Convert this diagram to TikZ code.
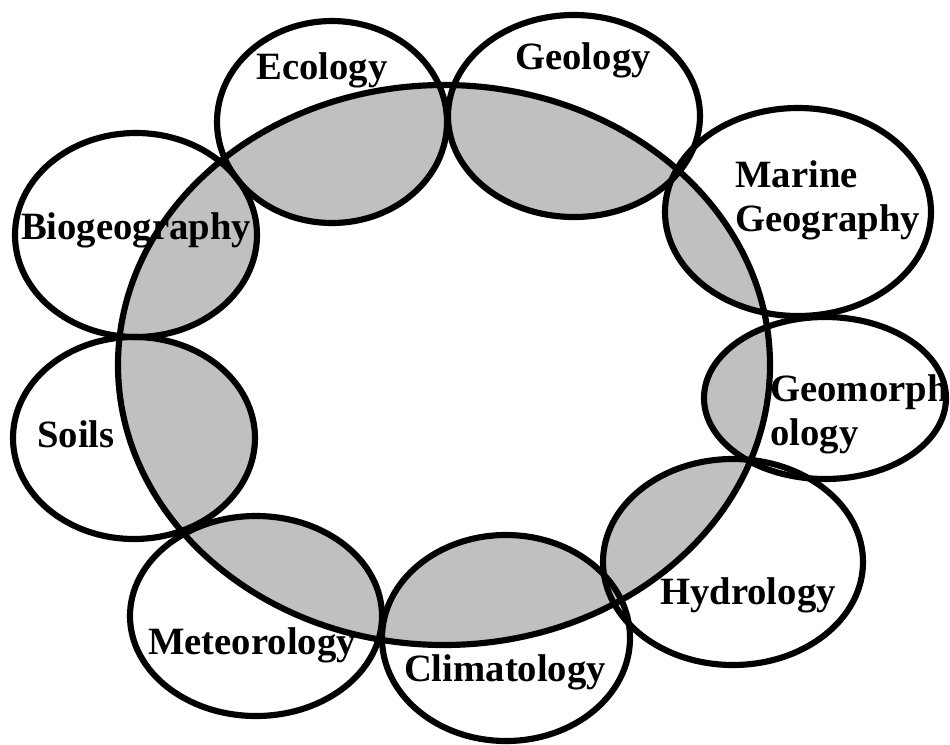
\documentclass[tikz,border=0pt]{standalone}
\usepackage{fontspec}
\setmainfont{Liberation Serif}
\usetikzlibrary{positioning}
\definecolor{lapgray}{RGB}{192,192,192}

\begin{document}
\begin{tikzpicture}[x=0.02cm,y=-0.02cm,
  ring/.style={line width=3.5pt},
  overlap/.style={fill=lapgray},
  topic/.style={font=\bfseries\fontsize{22}{25}\selectfont,inner sep=0pt}]
\useasboundingbox (0,0) rectangle (950,744);
% shaded overlaps with the central field
\begin{scope}
  \clip (444,365) ellipse [x radius=326, y radius=280];
  \foreach \cx/\cy/\rx/\ry in {332/122/115/101, 574/116/126/101, 798/212/133/104,
      825/398/121/81, 733/562/130/103, 506/638/124/103, 256/616/126/100,
      134/438/121/101, 136/235/121/102}
    \fill[overlap] (\cx,\cy) ellipse [x radius=\rx, y radius=\ry];
\end{scope}
% outlines
\draw[ring] (444,365) ellipse [x radius=326, y radius=280];
\foreach \cx/\cy/\rx/\ry in {332/122/115/101, 574/116/126/101, 798/212/133/104,
    825/398/121/81, 733/562/130/103, 506/638/124/103, 256/616/126/100,
    134/438/121/101, 136/235/121/102}
  \draw[ring] (\cx,\cy) ellipse [x radius=\rx, y radius=\ry];
% labels
\node[topic] (eco) at (322,70) {Ecology};
\node[topic] (geo) at (583,60) {Geology};
\node[topic,anchor=west,align=left] (mar) at (735,200) {Marine\\Geography};
\node[topic,anchor=west,align=left] (gmo) at (770,414) {Geomorph\\ology};
\node[topic] (hyd) at (748,595) {Hydrology};
\node[topic] (cli) at (505,672) {Climatology};
\node[topic] (met) at (252,645) {Meteorology};
\node[topic] (soi) at (76,434) {Soils};
\node[topic] (bio) at (136,230) {Biogeography};
\end{tikzpicture}
\end{document}
